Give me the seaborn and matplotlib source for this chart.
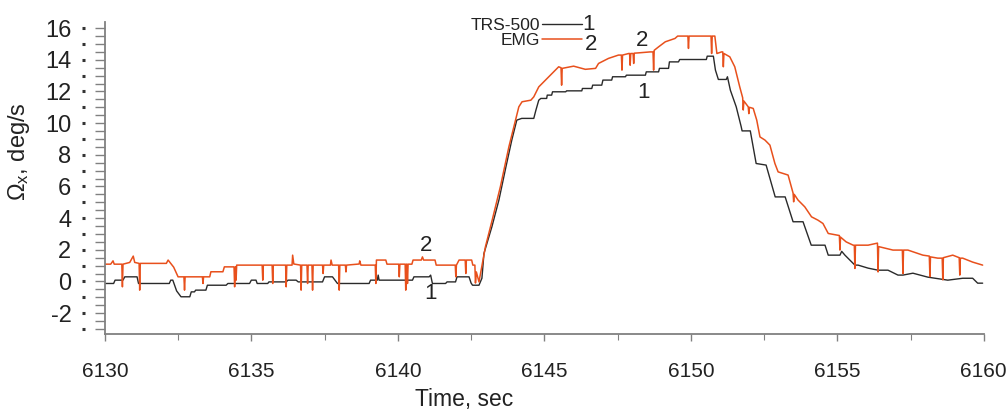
import numpy as np
import pandas as pd
import matplotlib
matplotlib.use("Agg")
import matplotlib.pyplot as plt
from matplotlib import font_manager
from matplotlib.ticker import MultipleLocator
import seaborn as sns

# time axis starts at 6130 s, offsets below are seconds after that
T0 = 6130

# TRS-500 angular rate (black, curve 1)
trs_t = [0.00, 0.30, 0.35, 0.62, 0.68, 1.10, 1.15, 2.20, 2.25, 2.32, 2.45, 2.60, 2.90, 2.95,
         3.06, 3.10, 3.45, 3.50, 4.14, 4.20, 4.94, 5.00, 5.16, 5.20, 5.56, 5.60, 6.19, 6.25,
         6.53, 6.60, 7.43, 7.50, 7.77, 7.94, 9.02, 9.07, 9.30, 9.33, 9.36, 10.50, 10.55, 11.07,
         11.12, 11.18, 11.63, 11.68, 11.97, 12.02, 12.43, 12.50, 12.55, 12.77, 12.87, 12.94,
         13.21, 13.45, 13.69, 13.89, 14.06, 14.23, 14.64, 14.71, 14.81, 14.88, 15.08, 15.10,
         15.25, 15.28, 15.73, 15.76, 16.28, 16.30, 16.62, 16.65, 16.96, 17.00, 17.30, 17.33,
         17.77, 17.80, 18.45, 18.48, 18.90, 18.93, 19.24, 19.27, 19.58, 19.62, 20.53, 20.56,
         20.77, 20.84, 20.94, 21.21, 21.25, 21.35, 21.55, 21.72, 21.75, 22.03, 22.23, 22.57,
         22.88, 23.22, 23.49, 23.83, 24.11, 24.58, 24.69, 25.09, 25.15, 25.26, 25.60, 25.71,
         26.05, 26.39, 26.73, 27.07, 27.24, 27.58, 28.09, 28.77, 29.28, 29.62, 29.79, 29.96]
trs_v = [-0.13, -0.13, 0.08, 0.08, 0.29, 0.29, -0.13, -0.13, 0.08, 0.08, -0.60, -0.97, -0.97, -0.66,
         -0.66, -0.55, -0.55, -0.24, -0.24, -0.13, -0.13, 0.08, 0.08, -0.13, -0.13, -0.03, -0.03, 0.08,
         0.08, -0.03, -0.03, 0.29, 0.29, -0.13, -0.13, 0.08, 0.08, 0.40, 0.08, 0.08, 0.29, 0.29,
         0.40, -0.13, -0.13, -0.03, -0.03, 0.29, 0.29, -0.10, -0.24, -0.24, 0.20, 1.77,
         3.45, 5.14, 7.24, 8.93, 10.19, 10.30, 10.30, 10.80, 11.45, 11.56, 11.56, 11.77,
         11.77, 11.98, 11.98, 12.04, 12.04, 12.19, 12.19, 12.40, 12.40, 12.72, 12.72, 12.93,
         12.93, 13.03, 13.03, 13.24, 13.24, 13.46, 13.46, 13.87, 13.87, 14.02, 14.02, 14.23,
         14.23, 13.35, 12.76, 12.76, 12.93, 12.08, 11.03, 9.77, 9.51, 9.51, 7.45, 7.35,
         5.34, 5.34, 3.77, 3.77, 2.29, 2.29, 1.66, 1.66, 1.90, 1.66, 1.03, 1.03,
         0.84, 0.71, 0.71, 0.40, 0.40, 0.52, 0.27, 0.08, 0.20, 0.20, -0.11, -0.11]

# EMG angular rate (orange, curve 2)
emg_t = [0.00, 0.20, 0.28, 0.32, 0.58, 0.60, 0.62, 0.85, 0.97, 1.02, 1.17, 1.19, 1.21, 2.10,
         2.16, 2.25, 2.35, 2.50, 2.70, 2.72, 2.74, 3.33, 3.35, 3.37, 3.58, 3.62, 4.03, 4.08,
         4.41, 4.43, 4.46, 4.48, 4.50, 5.37, 5.39, 5.41, 5.71, 5.73, 5.75, 6.17, 6.19, 6.21,
         6.39, 6.41, 6.45, 6.68, 6.70, 6.72, 6.90, 6.92, 6.94, 7.07, 7.09, 7.11, 7.43, 7.45,
         7.47, 7.70, 7.72, 7.76, 7.98, 8.00, 8.02, 8.21, 8.23, 8.25, 8.68, 8.70, 8.74, 9.23,
         9.25, 9.27, 9.59, 9.63, 10.03, 10.05, 10.07, 10.25, 10.27, 10.29, 10.31, 10.33, 10.35,
         10.48, 10.52, 10.80, 10.84, 10.88, 11.27, 11.31, 11.96, 11.98, 12.00, 12.09, 12.30,
         12.32, 12.34, 12.52, 12.56, 12.63, 12.65, 12.68, 12.77, 12.99, 13.22, 13.50, 13.67,
         13.79, 13.96, 14.13, 14.24, 14.54, 14.64, 14.81, 15.04, 15.26, 15.49, 15.57, 15.59,
         15.61, 16.00, 16.40, 16.75, 16.85, 17.19, 17.53, 17.63, 17.65, 17.67, 17.88, 17.91,
         17.93, 17.95, 18.03, 18.05, 18.07, 18.22, 18.61, 18.71, 18.73, 18.75, 18.90, 19.13,
         19.46, 19.55, 19.90, 19.92, 19.94, 20.69, 20.71, 20.73, 20.82, 20.89, 21.05, 21.09,
         21.11, 21.13, 21.33, 21.50, 21.67, 21.77, 21.79, 21.81, 21.96, 21.98, 22.00, 22.13,
         22.25, 22.36, 22.53, 22.70, 22.87, 22.98, 23.32, 23.49, 23.51, 23.53, 23.66, 23.89,
         24.12, 24.34, 24.51, 24.69, 25.03, 25.07, 25.09, 25.11, 25.30, 25.54, 25.58, 25.60,
         25.62, 25.71, 26.05, 26.37, 26.39, 26.41, 26.90, 27.22, 27.24, 27.26, 27.41, 27.92,
         28.14, 28.16, 28.18, 28.43, 28.58, 28.60, 28.62, 28.94, 29.16, 29.18, 29.20, 29.28,
         29.62, 29.96]
emg_v = [1.09, 1.09, 1.30, 1.09, 1.09, -0.34, 1.09, 1.20, 1.60, 1.20, 1.14, -0.55, 1.14, 1.14,
         1.35, 1.14, 0.90, 0.29, 0.29, -0.55, 0.29, 0.29, -0.13, 0.29, 0.29, 0.61, 0.61, 0.92,
         0.92, -0.34, 0.92, 0.08, 1.03, 1.03, 0.08, 1.03, 1.03, -0.13, 1.03, 1.03, -0.34, 1.03,
         1.03, 1.66, 1.10, 1.03, -0.55, 1.03, 1.03, -0.13, 1.03, 1.03, -0.55, 1.03, 1.03, 0.50,
         1.03, 1.03, 1.35, 1.03, 1.03, -0.55, 1.03, 1.03, 0.60, 1.03, 1.10, 1.30, 1.03, 1.03,
         -0.13, 1.35, 1.35, 1.09, 1.09, 0.29, 1.09, 1.09, -0.55, 1.09, 1.09, -0.13, 1.09,
         1.09, 1.35, 1.35, 1.55, 1.35, 1.35, 1.03, 1.03, 0.29, 1.03, 1.35, 1.35,
         0.50, 1.35, 1.35, 1.03, 1.03, -0.10, 0.60, -0.03, 2.19, 3.87, 5.98, 7.45,
         8.50, 9.77, 11.03, 11.35, 11.45, 11.66, 12.29, 12.72, 13.14, 13.56, 13.50, 12.40,
         13.46, 13.60, 13.40, 13.46, 13.77, 14.09, 14.30, 14.30, 13.35, 14.30, 14.40, 14.40,
         13.66, 14.40, 14.40, 13.77, 14.42, 14.44, 14.50, 14.50, 13.35, 14.60, 14.82, 15.14,
         15.35, 15.50, 15.50, 14.72, 15.50, 15.50, 14.40, 15.50, 15.50, 14.40, 14.50, 14.50,
         13.56, 14.40, 14.19, 13.56, 12.29, 11.60, 10.83, 11.40, 11.03, 10.60, 11.00, 10.93,
         10.19, 9.13, 8.93, 8.61, 7.45, 6.92, 6.72, 5.58, 5.03, 5.50, 5.14, 4.71,
         4.08, 3.87, 3.66, 3.03, 2.92, 2.90, 1.98, 2.80, 2.50, 2.29, 2.29, 0.82,
         2.29, 2.29, 2.29, 2.42, 0.60, 2.20, 1.98, 1.98, 0.50, 1.98, 1.98, 1.66,
         1.60, 0.30, 1.55, 1.47, 1.47, 0.10, 1.50, 1.66, 1.50, 0.40, 1.47, 1.47,
         1.22, 1.03]

trs = pd.DataFrame({"time": np.array(trs_t) + T0, "omega": trs_v})
emg = pd.DataFrame({"time": np.array(emg_t) + T0, "omega": emg_v})

sns.set_theme(style="white")
plt.rcParams["font.family"] = ["Liberation Sans", "DejaVu Sans"]
plt.rcParams["axes.unicode_minus"] = False

# narrow face for the time axis and curve numbers, if it is installed
try:
    font_manager.findfont("Liberation Sans Narrow", fallback_to_default=False)
    narrow = "Liberation Sans Narrow"
    nsize = 18
except ValueError:
    narrow = "Liberation Sans"
    nsize = 15

black = "#2a2a2a"
orange = "#e8501c"
grey = "#808080"
txt = "#222222"

fig = plt.figure(figsize=(10.08, 4.12), dpi=100)
ax = fig.add_axes([0.104, 0.189, 0.872, 0.758])

sns.lineplot(data=trs, x="time", y="omega", color=black, lw=1.0,
             estimator=None, sort=False, label="TRS-500", ax=ax)
sns.lineplot(data=emg, x="time", y="omega", color=orange, lw=1.1,
             estimator=None, sort=False, label="EMG", ax=ax)

ax.set_xlim(6130, 6160)
ax.set_ylim(-3.33, 16.4)

ax.xaxis.set_major_locator(MultipleLocator(5))
ax.xaxis.set_minor_locator(MultipleLocator(2.5))
ax.yaxis.set_major_locator(MultipleLocator(2))
ax.yaxis.set_minor_locator(MultipleLocator(0.5))

for side in ["top", "right"]:
    ax.spines[side].set_visible(False)
for side in ["left", "bottom"]:
    ax.spines[side].set_color(grey)
    ax.spines[side].set_linewidth(1.3)

ax.tick_params(axis="y", which="both", direction="out", length=7, width=1.0,
               color=grey, left=True)
ax.tick_params(axis="y", which="major", pad=17, labelsize=17, labelcolor=txt)
ax.tick_params(axis="x", which="major", direction="out", length=5, width=1.0,
               color=grey, pad=15, labelcolor=txt, bottom=True)
ax.tick_params(axis="x", which="minor", direction="out", length=4, width=0.8,
               color=grey, bottom=True)
for lab in ax.get_xticklabels():
    lab.set_fontfamily(narrow)
    lab.set_fontsize(nsize)

# dotted scale marks left of the axis
sec = ax.secondary_yaxis(-0.0227)
sec.set_yticks(np.arange(-3, 17, 1))
sec.set_yticklabels([])
for s in sec.spines.values():
    s.set_visible(False)
sec.tick_params(axis="y", length=2, width=2.2, color="#333333")

ax.set_xlabel("Time, sec", fontsize=nsize + 1.5, family=narrow, color=txt)
ax.set_ylabel(r"$\mathregular{\Omega_x}$, deg/s", fontsize=17, color=txt)
ax.xaxis.set_label_coords(0.409, -0.172)
ax.yaxis.set_label_coords(-0.083, 0.585)

leg = ax.legend(loc="upper right", bbox_to_anchor=(0.5426, 1.012), frameon=False,
                markerfirst=False, fontsize=12.5, handlelength=2.3, handletextpad=0.1,
                labelspacing=0.0, borderpad=0, borderaxespad=0)
for t in leg.get_texts():
    t.set_color(txt)

# curve numbers
num_style = dict(fontsize=16, family=narrow, color=txt, ha="center", va="center")
ax.text(6146.51, 16.25, "1", **num_style)
ax.text(6146.58, 14.95, "2", **num_style)
ax.text(6148.32, 15.24, "2", **num_style)
ax.text(6148.39, 11.96, "1", **num_style)
ax.text(6140.96, 2.29, "2", **num_style)
ax.text(6141.13, -0.74, "1", **num_style)

fig.savefig("out.png", dpi=100)
